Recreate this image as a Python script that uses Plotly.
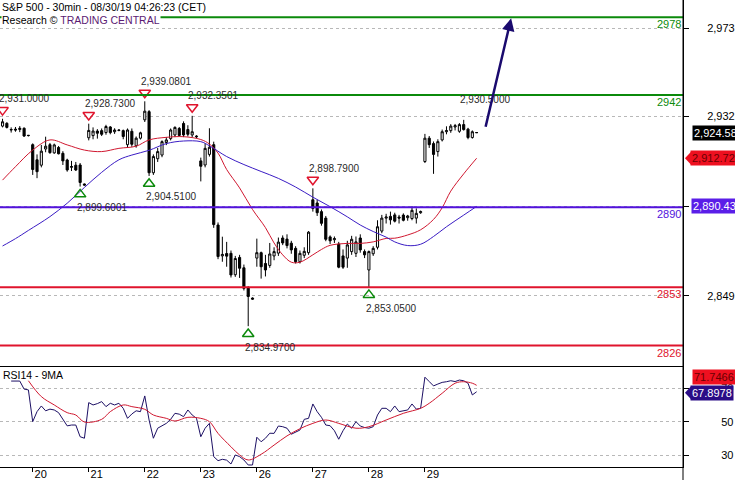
import plotly.graph_objects as go
from plotly.subplots import make_subplots

FONT = "Liberation Sans, Arial, sans-serif"
GREEN = "#0b8a0b"
VIOLET = "#5212dc"
RED = "#e0142d"
NAVY = "#1c0f64"

# S&P 500, 30min bars. bar 0..6 = end of 19 Aug, then 13 bars per session
opens = [2927.6, 2928.9, 2925.8, 2926.2, 2926.0, 2926.6, 2923.2,
         2919.0, 2912.0, 2909.5, 2917.0, 2919.0, 2915.2, 2917.7, 2915.0, 2911.9, 2908.5, 2909.5, 2909.6, 2900.8,
         2922.2, 2923.2, 2925.3, 2925.5, 2924.6, 2927.2, 2925.0, 2925.8, 2925.5, 2919.0, 2925.2, 2918.5, 2922.0,
         2930.5, 2934.3, 2906.0, 2912.5, 2914.2, 2920.0, 2921.8, 2923.5, 2926.5, 2928.8, 2926.0, 2923.5, 2923.0,
         2911.5, 2909.6, 2914.5, 2919.0, 2881.8, 2867.5, 2868.6, 2868.7, 2858.8, 2866.8, 2862.0, 2852.6, 2848.0,
         2866.5, 2869.0, 2864.0, 2863.1, 2867.5, 2868.8, 2875.8, 2875.3, 2873.4, 2871.0, 2864.8, 2867.8, 2869.0,
         2893.5, 2892.0, 2888.0, 2885.0, 2876.3, 2875.0, 2873.0, 2867.5, 2866.5, 2869.5, 2868.7, 2875.8, 2869.5,
         2861.0, 2868.5, 2871.5, 2879.0, 2885.0, 2885.8, 2886.5, 2885.5, 2886.4, 2885.2, 2884.8, 2885.0, 2887.5,
         2911.2, 2922.0, 2919.5, 2915.8, 2921.2, 2925.0, 2925.5, 2927.2, 2925.2, 2928.3, 2926.2, 2922.3, 2924.6]
highs = [2931.0, 2929.4, 2927.0, 2927.2, 2927.6, 2927.0, 2923.5,
         2919.6, 2914.5, 2918.9, 2922.7, 2919.8, 2919.5, 2918.4, 2916.0, 2912.5, 2911.5, 2911.0, 2910.5, 2901.0,
         2928.73, 2927.0, 2926.2, 2926.5, 2928.2, 2927.6, 2926.6, 2926.2, 2926.0, 2926.5, 2926.5, 2922.8, 2925.0,
         2939.08, 2935.0, 2914.5, 2917.5, 2921.0, 2922.5, 2926.5, 2927.5, 2927.2, 2929.8, 2928.0, 2932.35, 2923.4,
         2913.0, 2919.6, 2926.6, 2920.4, 2883.0, 2876.4, 2874.0, 2870.0, 2867.5, 2868.0, 2863.5, 2853.5, 2848.3,
         2875.5, 2869.5, 2868.0, 2873.5, 2871.5, 2876.0, 2877.0, 2877.5, 2874.5, 2872.0, 2870.0, 2871.5, 2879.0,
         2898.79, 2893.5, 2889.0, 2886.0, 2877.0, 2876.5, 2874.0, 2870.5, 2874.5, 2876.8, 2876.5, 2877.5, 2870.5,
         2870.0, 2872.0, 2884.0, 2886.5, 2887.0, 2888.0, 2887.5, 2886.5, 2887.2, 2886.5, 2890.5, 2889.5, 2888.5,
         2924.0, 2923.0, 2920.5, 2921.5, 2926.0, 2927.5, 2928.5, 2928.6, 2929.0, 2930.5, 2926.8, 2925.6, 2924.8]
lows = [2927.0, 2926.5, 2924.6, 2925.0, 2924.8, 2922.6, 2922.8,
        2905.0, 2903.5, 2908.5, 2915.5, 2914.8, 2914.8, 2914.5, 2909.6, 2906.5, 2906.8, 2906.8, 2899.6, 2900.0,
        2921.0, 2921.5, 2921.8, 2923.0, 2923.6, 2923.8, 2924.0, 2925.2, 2921.5, 2917.5, 2918.0, 2917.6, 2921.4,
        2929.5, 2904.51, 2905.0, 2911.0, 2913.2, 2918.8, 2921.0, 2922.5, 2922.8, 2922.5, 2922.8, 2922.3, 2922.0,
        2902.0, 2908.5, 2913.5, 2880.5, 2866.0, 2864.8, 2862.5, 2857.5, 2857.8, 2857.3, 2851.5, 2834.97, 2847.2,
        2862.5, 2857.0, 2858.0, 2862.0, 2865.5, 2867.5, 2872.5, 2871.0, 2868.5, 2864.0, 2864.0, 2866.5, 2868.0,
        2888.0, 2886.0, 2881.5, 2874.3, 2873.0, 2873.5, 2861.8, 2861.5, 2862.0, 2868.0, 2867.0, 2869.0, 2866.5,
        2853.05, 2867.5, 2870.5, 2878.0, 2882.5, 2882.0, 2883.0, 2882.5, 2883.5, 2883.8, 2884.0, 2882.5, 2887.0,
        2910.5, 2917.5, 2905.5, 2913.5, 2920.5, 2923.8, 2924.5, 2925.6, 2924.5, 2925.5, 2921.5, 2921.8, 2924.4]
closes = [2929.6, 2927.0, 2926.0, 2925.8, 2926.6, 2923.0, 2923.3,
          2907.5, 2906.5, 2916.0, 2918.3, 2915.3, 2918.9, 2914.8, 2911.5, 2907.3, 2908.9, 2907.3, 2901.5, 2900.3,
          2925.6, 2925.3, 2924.3, 2923.8, 2927.4, 2924.6, 2925.8, 2925.6, 2922.8, 2925.8, 2919.2, 2922.0, 2924.5,
          2934.5, 2906.0, 2913.5, 2915.8, 2920.4, 2921.2, 2925.8, 2927.0, 2923.3, 2923.5, 2923.8, 2925.0, 2922.7,
          2909.0, 2917.3, 2917.8, 2882.0, 2867.2, 2868.2, 2867.4, 2858.7, 2866.3, 2861.8, 2852.5, 2848.7, 2847.5,
          2869.0, 2862.5, 2861.0, 2868.4, 2869.5, 2873.9, 2873.5, 2872.3, 2870.3, 2864.8, 2868.7, 2869.6, 2878.5,
          2889.5, 2887.5, 2882.6, 2875.2, 2874.5, 2875.5, 2862.3, 2862.3, 2872.6, 2875.2, 2874.0, 2870.3, 2868.0,
          2869.5, 2871.0, 2881.0, 2885.0, 2885.5, 2884.2, 2883.6, 2885.0, 2884.0, 2886.0, 2888.6, 2887.2, 2888.0,
          2922.0, 2919.0, 2914.5, 2920.4, 2925.0, 2925.5, 2927.6, 2927.8, 2928.3, 2926.0, 2922.3, 2925.0, 2924.58]
bars = list(range(len(closes)))

# moving averages
ma_red_bars = [0, 3, 7, 11, 15, 19, 23, 27, 31, 34, 38, 42, 46, 48, 50, 52, 55, 58, 61, 63, 65, 67,
               69, 72, 74, 76, 80, 83, 86, 89, 91, 94, 97, 100, 102, 104, 107, 110]
ma_red = [2902.6, 2908.8, 2916.5, 2921.2, 2918.9, 2916.5, 2915.8, 2917.3, 2918.3, 2921.2, 2922.4, 2922.7,
          2921.4, 2919.3, 2915.1, 2907.5, 2899.0, 2889.0, 2880.6, 2873.5, 2868.0, 2864.6, 2864.6, 2868.0,
          2870.5, 2872.4, 2873.3, 2873.3, 2874.0, 2875.6, 2875.7, 2877.2, 2879.6, 2884.4, 2889.8, 2897.5,
          2905.5, 2912.72]
ma_blue_bars = [0, 3, 6, 11, 15, 19, 23, 27, 30, 34, 38, 42, 46, 48, 52, 56, 60, 64, 68, 72, 76, 80,
                83, 86, 89, 91, 94, 97, 100, 103, 107, 110]
ma_blue = [2872.1, 2875.5, 2879.3, 2885.7, 2891.9, 2899.2, 2906.2, 2912.0, 2914.2, 2916.4, 2919.5, 2920.7,
           2920.4, 2918.5, 2913.5, 2909.8, 2906.6, 2903.4, 2899.4, 2894.7, 2890.3, 2885.6, 2881.8, 2878.8,
           2876.2, 2874.0, 2872.3, 2872.9, 2876.5, 2881.0, 2886.4, 2890.43]

rsi = [None, None, 74.3, 74.3, 74.3, 69.5, 69.0,
       50.0, 56.0, 59.4, 56.5, 57.5, 57.0, 55.4, 51.5, 47.5, 48.0, 48.0, 41.0, 40.1,
       61.4, 60.0, 60.8, 62.0, 59.0, 61.0, 60.0, 61.0, 58.0, 52.0, 54.6, 56.5, 56.0,
       65.4, 51.0, 40.1, 46.1, 47.4, 49.0, 51.4, 55.0, 54.5, 53.0, 57.0, 54.0, 52.0,
       41.0, 46.1, 49.0, 29.1, 26.7, 27.5, 27.0, 24.7, 30.1, 29.1, 27.1, 24.1, 24.1,
       40.7, 38.0, 40.1, 43.1, 43.0, 47.4, 47.0, 46.1, 42.5, 44.0, 45.0, 51.4, 52.0,
       60.6, 56.0, 52.6, 48.0, 47.6, 44.6, 39.5, 44.6, 48.6, 46.1, 50.0, 47.4, 46.5,
       46.1, 47.0, 54.0, 58.0, 58.0, 56.0, 59.4, 56.0, 56.5, 57.0, 60.6, 57.5, 58.0,
       76.6, 74.0, 71.4, 72.5, 73.5, 73.9, 74.5, 74.0, 74.9, 74.5, 73.0, 66.0, 67.8978]
rsi_ma_bars = [6, 9, 12, 15, 17, 19, 23, 25, 28, 30, 33, 35, 38, 40, 43, 46, 48, 50, 53, 55, 57, 60,
               63, 66, 69, 72, 75, 78, 82, 85, 89, 93, 97, 99, 102, 105, 107, 109, 110]
rsi_ma = [74.5, 65.0, 60.0, 55.4, 54.0, 49.8, 51.4, 56.0, 60.0, 59.0, 57.4, 54.0, 52.0, 50.4, 52.6, 52.0,
          50.0, 43.0, 35.0, 30.1, 27.1, 30.5, 36.0, 41.5, 45.8, 49.0, 51.0, 49.0, 46.1, 47.0, 51.0, 55.0,
          58.0, 61.0, 67.0, 73.0, 73.9, 73.0, 71.7466]

day_bars = [7, 20, 33, 46, 59, 72, 85, 98]
day_labels = ["20", "21", "22", "23", "26", "27", "28", "29"]

price_ticks = [2849, 2890.5, 2932, 2973]
rsi_ticks = [30, 50, 70]

levels = [2978, 2942, 2890, 2853, 2826]
level_colors = [GREEN, GREEN, VIOLET, RED, RED]

peak_bars = [0, 20, 33, 44, 72, 107]
peak_vals = [2931.0, 2928.73, 2939.0801, 2932.3501, 2898.79, 2930.5]
peak_marked = [True, True, True, True, True, False]
trough_bars = [18, 34, 57, 85]
trough_vals = [2899.6001, 2904.51, 2834.97, 2853.05]

last_close = closes[-1]
last_ma_red = ma_red[-1]
last_ma_blue = ma_blue[-1]
last_rsi = rsi[-1]
last_rsi_ma = rsi_ma[-1]
target = levels[0]

fig = make_subplots(rows=2, cols=1, shared_xaxes=True, vertical_spacing=0,
                    row_heights=[366 / 467, 101 / 467])

fig.add_trace(go.Candlestick(
    x=bars, open=opens, high=highs, low=lows, close=closes,
    increasing=dict(line=dict(color="black", width=1), fillcolor="white"),
    decreasing=dict(line=dict(color="black", width=1), fillcolor="black"),
    whiskerwidth=0, hoverinfo="skip"), row=1, col=1)

fig.add_trace(go.Scatter(x=ma_red_bars, y=ma_red, mode="lines",
                         line=dict(color="#d01830", width=1, shape="spline")), row=1, col=1)
fig.add_trace(go.Scatter(x=ma_blue_bars, y=ma_blue, mode="lines",
                         line=dict(color="#3a1cc4", width=1, shape="spline")), row=1, col=1)

# swing markers
pk_x = [b for b, m in zip(peak_bars, peak_marked) if m]
pk_y = [v + 4 for v, m in zip(peak_vals, peak_marked) if m]
fig.add_trace(go.Scatter(x=pk_x, y=pk_y, mode="markers",
                         marker=dict(symbol="triangle-down-open", size=10, color=RED,
                                     line=dict(width=1.5))), row=1, col=1)
fig.add_trace(go.Scatter(x=trough_bars, y=[v - 3.6 for v in trough_vals], mode="markers",
                         marker=dict(symbol="triangle-up-open", size=10, color=GREEN,
                                     line=dict(width=1.5))), row=1, col=1)

fig.add_trace(go.Scatter(x=bars, y=rsi, mode="lines",
                         line=dict(color=NAVY, width=1)), row=2, col=1)
fig.add_trace(go.Scatter(x=rsi_ma_bars, y=rsi_ma, mode="lines",
                         line=dict(color="#d01830", width=1, shape="spline")), row=2, col=1)

shapes = []
annotations = []
for lv, c in zip(levels, level_colors):
    shapes.append(dict(type="line", xref="paper", x0=0, x1=1, yref="y", y0=lv, y1=lv,
                       line=dict(color=c, width=2)))
    annotations.append(dict(xref="paper", x=1, xanchor="right", yref="y", y=lv, yanchor="top",
                            yshift=1, text=str(lv), showarrow=False,
                            font=dict(family=FONT, size=11, color=c)))

for b, v in zip(peak_bars, peak_vals):
    annotations.append(dict(x=b, y=v, xanchor="left", xshift=-6, yshift=20, showarrow=False,
                            text="{:,.4f}".format(v), font=dict(family=FONT, size=10, color="#2a2a2a")))
for b, v in zip(trough_bars, trough_vals):
    annotations.append(dict(x=b, y=v, xanchor="left", xshift=-5, yshift=-21, showarrow=False,
                            text="{:,.4f}".format(v), font=dict(family=FONT, size=10, color="#2a2a2a")))

# projection arrow
annotations.append(dict(x=bars[-1] + 8, y=target - 0.5, ax=bars[-1] + 2, ay=last_close + 2,
                        xref="x", yref="y", axref="x", ayref="y", showarrow=True,
                        arrowhead=2, arrowsize=1, arrowwidth=2.5, arrowcolor="#1a0a6e", text=""))

# right side value tags
def tag(y, yref, text, bg, fg, xshift=9, yshift=0):
    annotations.append(dict(xref="paper", x=1, xanchor="left", xshift=xshift, yref=yref, y=y,
                            yshift=yshift, text=text, showarrow=False, bgcolor=bg, borderpad=1,
                            font=dict(family=FONT, size=11, color=fg)))

tag(last_close, "y", "{:,.2f}".format(last_close), "black", "white")
tag(last_ma_red, "y", "{:,.2f}".format(last_ma_red), "#ee1020", "#6a0000", xshift=7)
tag(last_ma_blue, "y", "{:,.2f}".format(last_ma_blue), "#5a1ee8", "white", xshift=8)
tag(last_rsi_ma, "y2", "{:.4f}".format(last_rsi_ma), "#ee1020", "#6a0000", xshift=9, yshift=8)
tag(last_rsi, "y2", "{:.4f}".format(last_rsi), "#2a0c86", "white", xshift=7, yshift=-1)

# pointers of the two tags that carry one
shapes.append(dict(type="path", xref="paper", yref="y", fillcolor="#ee1020", line=dict(width=0),
                   path="M 1.0029,{0} L 1.0118,{1} L 1.0118,{2} Z".format(
                       last_ma_red, last_ma_red + 3, last_ma_red - 3)))
shapes.append(dict(type="path", xref="paper", yref="y2", fillcolor="#2a0c86", line=dict(width=0),
                   path="M 1.0029,{0} L 1.0118,{1} L 1.0118,{2} Z".format(
                       last_rsi - 0.6, last_rsi + 3.3, last_rsi - 4.5)))

shapes.append(dict(type="line", xref="paper", x0=1, x1=1, yref="paper", y0=-0.03, y1=1,
                   line=dict(color="black", width=1)))

annotations.append(dict(xref="paper", x=0, xanchor="left", xshift=1, yref="paper", y=1, yanchor="top",
                        showarrow=False, borderpad=0,
                        text="S&P 500 - 30min - 08/30/19 04:26:23 (CET)",
                        font=dict(family=FONT, size=10.5, color="black")))
annotations.append(dict(xref="paper", x=0, xanchor="left", xshift=1, yref="paper", y=1, yanchor="top",
                        yshift=-13, showarrow=False, bgcolor="white", borderpad=0,
                        text="Research © <span style='color:#5b1a73'>TRADING CENTRAL</span>",
                        font=dict(family=FONT, size=10.5, color="black")))
annotations.append(dict(xref="paper", x=0, xanchor="left", xshift=1, yref="y2 domain", y=1,
                        yanchor="top", yshift=-1, showarrow=False, text="RSI14 - 9MA",
                        font=dict(family=FONT, size=10.5, color="black")))

fig.update_layout(
    width=735, height=480, margin=dict(l=0, r=52, t=0, b=13),
    paper_bgcolor="white", plot_bgcolor="white", showlegend=False,
    shapes=shapes, annotations=annotations,
    font=dict(family=FONT, size=11, color="black"),
)
fig.update_xaxes(range=[-0.59, 157.88], showgrid=False, zeroline=False, automargin=False,
                 showline=True, linecolor="black", linewidth=1, rangeslider_visible=False)
fig.update_xaxes(showticklabels=False, ticks="", row=1, col=1)
fig.update_xaxes(tickvals=day_bars, ticktext=day_labels, ticks="outside", ticklen=4,
                 tickcolor="black", ticklabelshift=8, ticklabelstandoff=-7,
                 tickfont=dict(size=11), row=2, col=1)
fig.update_yaxes(side="right", showline=True, linecolor="black", zeroline=False,
                 ticks="outside", ticklen=5, tickcolor="black", automargin=False,
                 showgrid=True, griddash="dot", gridcolor="#b8b8b8")
fig.update_yaxes(range=[2816.54, 2985.98], tickvals=price_ticks,
                 ticktext=["{:,.0f}".format(t) for t in price_ticks],
                 ticklabelstandoff=16, row=1, col=1)
fig.update_yaxes(range=[22.9, 83.3], tickvals=rsi_ticks, ticktext=[str(t) for t in rsi_ticks],
                 ticklabelstandoff=30, row=2, col=1)

fig.write_html("out.html", config={"displayModeBar": False},
               post_script="document.body.style.margin='0px';")
